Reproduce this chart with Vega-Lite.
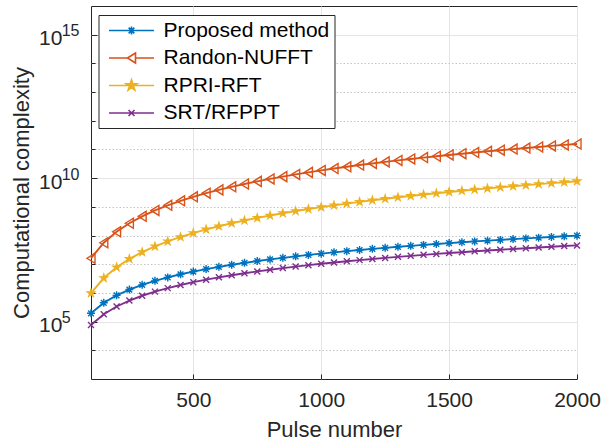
{
 "$schema": "https://vega.github.io/schema/vega-lite/v6.json",
 "autosize": {"type": "none"},
 "padding": {"left": 91, "top": 6, "right": 34, "bottom": 64},
 "width": 486,
 "height": 373,
 "background": "white",
 "data": {"values": [
  {"n":100,"Proposed method":1.95e5,"Randon-NUFFT":1.62e7,"RPRI-RFT":9.77e5,"SRT/RFPPT":7.67e4},
  {"n":150,"Proposed method":4.53e5,"Randon-NUFFT":5.61e7,"RPRI-RFT":3.30e6,"SRT/RFPPT":1.82e5},
  {"n":200,"Proposed method":8.24e5,"Randon-NUFFT":1.35e8,"RPRI-RFT":7.82e6,"SRT/RFPPT":3.36e5},
  {"n":250,"Proposed method":1.31e6,"Randon-NUFFT":2.68e8,"RPRI-RFT":1.53e7,"SRT/RFPPT":5.41e5},
  {"n":300,"Proposed method":1.91e6,"Randon-NUFFT":4.68e8,"RPRI-RFT":2.64e7,"SRT/RFPPT":7.96e5},
  {"n":350,"Proposed method":2.64e6,"Randon-NUFFT":7.50e8,"RPRI-RFT":4.19e7,"SRT/RFPPT":1.11e6},
  {"n":400,"Proposed method":3.48e6,"Randon-NUFFT":1.13e9,"RPRI-RFT":6.25e7,"SRT/RFPPT":1.47e6},
  {"n":450,"Proposed method":4.46e6,"Randon-NUFFT":1.62e9,"RPRI-RFT":8.91e7,"SRT/RFPPT":1.89e6},
  {"n":500,"Proposed method":5.55e6,"Randon-NUFFT":2.23e9,"RPRI-RFT":1.22e8,"SRT/RFPPT":2.37e6},
  {"n":550,"Proposed method":6.76e6,"Randon-NUFFT":2.99e9,"RPRI-RFT":1.63e8,"SRT/RFPPT":2.90e6},
  {"n":600,"Proposed method":8.11e6,"Randon-NUFFT":3.90e9,"RPRI-RFT":2.11e8,"SRT/RFPPT":3.49e6},
  {"n":650,"Proposed method":9.57e6,"Randon-NUFFT":4.99e9,"RPRI-RFT":2.69e8,"SRT/RFPPT":4.14e6},
  {"n":700,"Proposed method":1.12e7,"Randon-NUFFT":6.25e9,"RPRI-RFT":3.35e8,"SRT/RFPPT":4.84e6},
  {"n":750,"Proposed method":1.29e7,"Randon-NUFFT":7.73e9,"RPRI-RFT":4.12e8,"SRT/RFPPT":5.61e6},
  {"n":800,"Proposed method":1.47e7,"Randon-NUFFT":9.42e9,"RPRI-RFT":5.00e8,"SRT/RFPPT":6.44e6},
  {"n":850,"Proposed method":1.67e7,"Randon-NUFFT":1.13e10,"RPRI-RFT":6.00e8,"SRT/RFPPT":7.33e6},
  {"n":900,"Proposed method":1.88e7,"Randon-NUFFT":1.35e10,"RPRI-RFT":7.13e8,"SRT/RFPPT":8.28e6},
  {"n":950,"Proposed method":2.11e7,"Randon-NUFFT":1.59e10,"RPRI-RFT":8.38e8,"SRT/RFPPT":9.29e6},
  {"n":1000,"Proposed method":2.34e7,"Randon-NUFFT":1.86e10,"RPRI-RFT":9.77e8,"SRT/RFPPT":1.04e7},
  {"n":1050,"Proposed method":2.59e7,"Randon-NUFFT":2.16e10,"RPRI-RFT":1.13e9,"SRT/RFPPT":1.15e7},
  {"n":1100,"Proposed method":2.86e7,"Randon-NUFFT":2.49e10,"RPRI-RFT":1.30e9,"SRT/RFPPT":1.27e7},
  {"n":1150,"Proposed method":3.13e7,"Randon-NUFFT":2.86e10,"RPRI-RFT":1.49e9,"SRT/RFPPT":1.39e7},
  {"n":1200,"Proposed method":3.43e7,"Randon-NUFFT":3.25e10,"RPRI-RFT":1.69e9,"SRT/RFPPT":1.53e7},
  {"n":1250,"Proposed method":3.73e7,"Randon-NUFFT":3.69e10,"RPRI-RFT":1.91e9,"SRT/RFPPT":1.66e7},
  {"n":1300,"Proposed method":4.05e7,"Randon-NUFFT":4.16e10,"RPRI-RFT":2.15e9,"SRT/RFPPT":1.81e7},
  {"n":1350,"Proposed method":4.38e7,"Randon-NUFFT":4.67e10,"RPRI-RFT":2.40e9,"SRT/RFPPT":1.96e7},
  {"n":1400,"Proposed method":4.72e7,"Randon-NUFFT":5.21e10,"RPRI-RFT":2.68e9,"SRT/RFPPT":2.12e7},
  {"n":1450,"Proposed method":5.08e7,"Randon-NUFFT":5.81e10,"RPRI-RFT":2.98e9,"SRT/RFPPT":2.29e7},
  {"n":1500,"Proposed method":5.45e7,"Randon-NUFFT":6.44e10,"RPRI-RFT":3.30e9,"SRT/RFPPT":2.45e7},
  {"n":1550,"Proposed method":5.83e7,"Randon-NUFFT":7.11e10,"RPRI-RFT":3.64e9,"SRT/RFPPT":2.63e7},
  {"n":1600,"Proposed method":6.24e7,"Randon-NUFFT":7.85e10,"RPRI-RFT":4.00e9,"SRT/RFPPT":2.82e7},
  {"n":1650,"Proposed method":6.64e7,"Randon-NUFFT":8.63e10,"RPRI-RFT":4.39e9,"SRT/RFPPT":3.01e7},
  {"n":1700,"Proposed method":7.06e7,"Randon-NUFFT":9.44e10,"RPRI-RFT":4.80e9,"SRT/RFPPT":3.21e7},
  {"n":1750,"Proposed method":7.52e7,"Randon-NUFFT":1.03e11,"RPRI-RFT":5.24e9,"SRT/RFPPT":3.41e7},
  {"n":1800,"Proposed method":7.96e7,"Randon-NUFFT":1.12e11,"RPRI-RFT":5.70e9,"SRT/RFPPT":3.62e7},
  {"n":1850,"Proposed method":8.43e7,"Randon-NUFFT":1.22e11,"RPRI-RFT":6.19e9,"SRT/RFPPT":3.84e7},
  {"n":1900,"Proposed method":8.91e7,"Randon-NUFFT":1.33e11,"RPRI-RFT":6.70e9,"SRT/RFPPT":4.06e7},
  {"n":1950,"Proposed method":9.40e7,"Randon-NUFFT":1.44e11,"RPRI-RFT":7.24e9,"SRT/RFPPT":4.30e7},
  {"n":2000,"Proposed method":9.91e7,"Randon-NUFFT":1.55e11,"RPRI-RFT":7.82e9,"SRT/RFPPT":4.53e7}
 ]},
 "transform": [{"fold": ["Proposed method", "Randon-NUFFT", "RPRI-RFT", "SRT/RFPPT"], "as": ["method", "c"]}],
 "encoding": {
  "x": {"field": "n", "type": "quantitative",
   "scale": {"domain": [100, 2000], "nice": false, "zero": false},
   "axis": {"values": [500, 1000, 1500, 2000], "format": "d", "title": "Pulse number",
    "titleFontSize": 22, "titleFontWeight": "normal", "titleColor": "#262626", "titlePadding": 9,
    "labelFontSize": 21, "labelColor": "#262626", "labelPadding": 15, "labelFlush": false,
    "tickSize": -5, "tickColor": "#262626", "domain": false,
    "grid": true, "gridColor": "#e5e5e5"}}
 },
 "layer": [
  {"mark": {"type": "line", "strokeWidth": 1.9},
   "encoding": {
    "color": {"field": "method", "type": "nominal",
     "scale": {"domain": ["SRT/RFPPT", "RPRI-RFT", "Randon-NUFFT", "Proposed method"],
               "range": ["#7E2F8E", "#EDB120", "#D95319", "#0072BD"]}, "legend": null},
    "y": {"field": "c", "type": "quantitative",
    "scale": {"type": "log", "domain": [1e3, 1e16], "nice": false},
    "axis": {"orient": "left", "values": [1e5, 1e10, 1e15],
     "labelExpr": "datum.value < 1e7 ? '\u2002' + '10' : '10'",
     "labelFontSize": 21, "labelColor": "#262626", "labelAlign": "left", "labelBaseline": "middle",
     "labelPadding": 58.5, "tickSize": -6, "tickColor": "#262626", "labelOffset": 4, "labelFlush": false,
     "grid": true, "gridColor": "#e5e5e5", "domain": false,
     "title": "Computational complexity", "titleFontSize": 22, "titleFontWeight": "normal",
     "titleColor": "#262626", "titlePadding": 5}}}},
  {"transform": [{"filter": "datum.method === 'Proposed method'"}],
   "mark": {"type": "point", "filled": false, "size": 100, "strokeWidth": 1.4, "opacity": 1,
    "shape": "M-0.8,0L0.8,0M0,-0.8L0,0.8M-0.57,-0.57L0.57,0.57M-0.57,0.57L0.57,-0.57"},
   "encoding": {
    "color": {"field": "method", "type": "nominal", "legend": null},
    "y": {"field": "c", "type": "quantitative",
     "axis": {"orient": "left", "values": [1e5, 1e10, 1e15],
      "labelExpr": "datum.value < 1e7 ? '\u2007' + '5' : '' + round(log(datum.value) / LN10)",
      "labelFontSize": 16, "labelColor": "#262626", "labelAlign": "left", "labelBaseline": "middle",
      "labelPadding": 29.8, "ticks": false, "labelOffset": -4, "labelFlush": false,
      "grid": false, "domain": false, "title": null}}}},
  {"transform": [{"filter": "datum.method === 'Randon-NUFFT'"}],
   "mark": {"type": "point", "filled": false, "size": 100, "strokeWidth": 1.4, "opacity": 1,
    "shape": "M-0.8,0L0.8,-1L0.8,1Z"},
   "encoding": {
    "color": {"field": "method", "type": "nominal", "legend": null},
    "y": {"field": "c", "type": "quantitative",
     "axis": {"orient": "left", "values": [1e4, 1e6, 1e7, 1e8, 1e9, 1e11, 1e12, 1e13, 1e14],
      "labels": false, "tickSize": -4, "tickColor": "#262626",
      "grid": true, "gridColor": "#c4c4c4", "gridDash": [1.5, 2], "domain": false, "title": null}}}},
  {"transform": [{"filter": "datum.method === 'RPRI-RFT'"}],
   "mark": {"type": "point", "filled": true, "size": 130, "strokeWidth": 1, "opacity": 1,
    "shape": "M0,-1.05L0.236,-0.324L0.999,-0.324L0.381,0.124L0.617,0.849L0,0.401L-0.617,0.849L-0.381,0.124L-0.999,-0.324L-0.236,-0.324Z"},
   "encoding": {
    "color": {"field": "method", "type": "nominal", "legend": null},
    "y": {"field": "c", "type": "quantitative", "axis": null}}},
  {"transform": [{"filter": "datum.method === 'SRT/RFPPT'"}],
   "mark": {"type": "point", "filled": false, "size": 100, "strokeWidth": 1.4, "opacity": 1,
    "shape": "M-0.6,-0.6L0.6,0.6M-0.6,0.6L0.6,-0.6"},
   "encoding": {
    "color": {"field": "method", "type": "nominal", "legend": null},
    "y": {"field": "c", "type": "quantitative", "axis": null}}},
  {"transform": [{"filter": "false"}],
   "mark": {"type": "point", "filled": false, "size": 100, "strokeWidth": 1.6, "opacity": 1},
   "encoding": {
    "y": {"field": "c", "type": "quantitative", "axis": null},
    "stroke": {"field": "method", "type": "nominal",
     "scale": {"domain": ["Proposed method", "Randon-NUFFT", "RPRI-RFT", "SRT/RFPPT"],
               "range": ["#0072BD", "#D95319", "#EDB120", "#7E2F8E"]},
     "legend": {"orient": "none", "legendX": 7.5, "legendY": 9, "title": null,
      "fillColor": "white", "strokeColor": "#262626", "padding": 5,
      "symbolSize": 100, "symbolStrokeWidth": 1.6, "symbolOpacity": 1,
      "labelFontSize": 21, "labelColor": "#000000", "labelLimit": 400, "labelOffset": 39,
      "rowPadding": 5.5}},
    "shape": {"field": "method", "type": "nominal",
     "scale": {"domain": ["Proposed method", "Randon-NUFFT", "RPRI-RFT", "SRT/RFPPT"],
      "range": ["M-1,0L8,0M2.7,0L4.3,0M3.5,-0.8L3.5,0.8M2.93,-0.57L4.07,0.57M2.93,0.57L4.07,-0.57",
                "M-1,0L2.7,0M4.3,0L8,0M2.7,0L4.3,-1L4.3,1Z",
                "M-1,0L8,0M3.5,-1.15L3.758,-0.355L4.594,-0.355L3.917,0.136L4.176,0.93L3.5,0.439L2.824,0.93L3.083,0.136L2.406,-0.355L3.242,-0.355Z",
                "M-1,0L8,0M2.9,-0.6L4.1,0.6M2.9,0.6L4.1,-0.6"]},
     "legend": {"orient": "none", "legendX": 7.5, "legendY": 9, "title": null,
      "fillColor": "white", "strokeColor": "#262626", "padding": 5,
      "symbolSize": 100, "symbolStrokeWidth": 1.6, "symbolOpacity": 1,
      "labelFontSize": 21, "labelColor": "#000000", "labelLimit": 400, "labelOffset": 39,
      "rowPadding": 5.5}},
    "fill": {"field": "method", "type": "nominal",
     "scale": {"domain": ["Proposed method", "Randon-NUFFT", "RPRI-RFT", "SRT/RFPPT"],
      "range": ["transparent", "transparent", "#EDB120", "transparent"]},
     "legend": {"orient": "none", "legendX": 7.5, "legendY": 9, "title": null,
      "fillColor": "white", "strokeColor": "#262626", "padding": 5,
      "symbolSize": 100, "symbolStrokeWidth": 1.6, "symbolOpacity": 1,
      "labelFontSize": 21, "labelColor": "#000000", "labelLimit": 400, "labelOffset": 39,
      "rowPadding": 5.5}}
   }}
 ],
 "resolve": {"axis": {"y": "independent"}},
 "config": {
  "font": "Liberation Sans",
  "view": {"stroke": "#262626", "strokeWidth": 1},
  "axis": {"labelFont": "Liberation Sans", "titleFont": "Liberation Sans"},
  "legend": {"labelFont": "Liberation Sans"}
 }
}
